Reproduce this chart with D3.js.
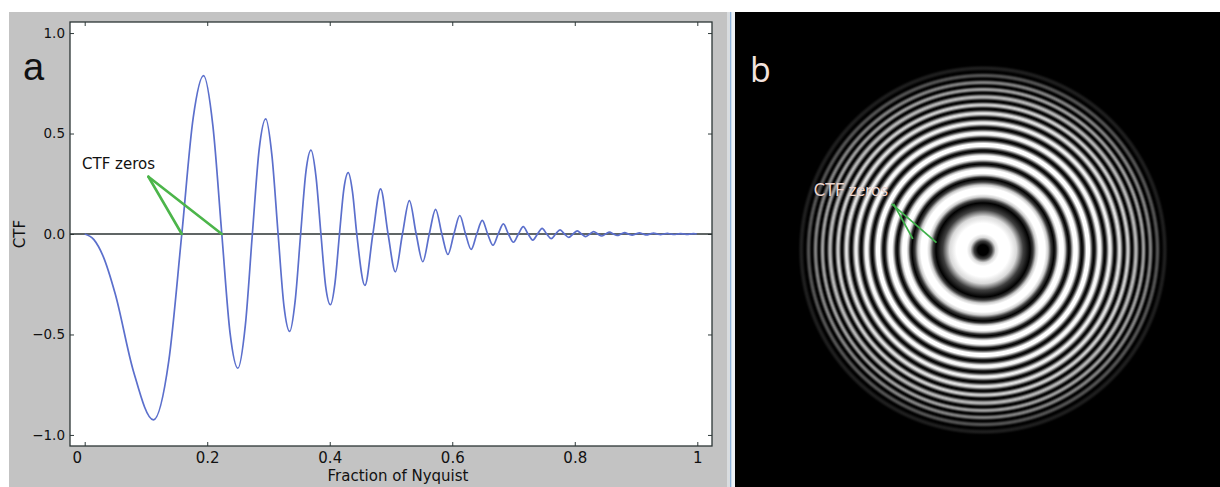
<!DOCTYPE html>
<html><head><meta charset="utf-8">
<script src="https://cdn.jsdelivr.net/npm/d3@7"></script>
<style>html,body{margin:0;padding:0;background:#fff;} svg{display:block;}</style>
</head><body>
<svg id="chart" width="1220" height="487"></svg>
<script>
// ---------------- DATA : panel a (CTF curve) ----------------
const zeroFreqs = [0, 0.1585, 0.2238, 0.2737, 0.3157, 0.3525, 0.3856, 0.4159, 0.4441, 0.4704,
  0.4952, 0.5187, 0.5411, 0.5625, 0.5830, 0.6027, 0.6217, 0.6400, 0.6578, 0.6750, 0.6917,
  0.7080, 0.7238, 0.7392, 0.7542, 0.7688, 0.7832, 0.7972, 0.8109, 0.8243, 0.8375, 0.8504,
  0.8630, 0.8754, 0.8876, 0.8996, 0.9114, 0.9230, 0.9344, 0.9456, 0.9566, 0.9675, 0.9782,
  0.9888, 0.9992];
const extremaFreqs = [0.1122, 0.1940, 0.2501, 0.2955, 0.3346, 0.3694, 0.4011, 0.4302, 0.4574,
  0.4830, 0.5071, 0.5300, 0.5519, 0.5728, 0.5929, 0.6123, 0.6309, 0.6490, 0.6665, 0.6834,
  0.6999, 0.7159, 0.7315, 0.7467, 0.7616, 0.7760, 0.7902, 0.8041, 0.8176, 0.8309, 0.8439,
  0.8567, 0.8693, 0.8816, 0.8937, 0.9055, 0.9172, 0.9287, 0.9400, 0.9511, 0.9621, 0.9729,
  0.9835, 0.9940];
const extremaValues = [-0.925, 0.788, -0.668, 0.573, -0.485, 0.417, -0.352, 0.305, -0.256,
  0.225, -0.188, 0.166, -0.138, 0.123, -0.102, 0.092, -0.077, 0.068, -0.056, 0.050, -0.041,
  0.037, -0.030, 0.028, -0.023, 0.021, -0.017, 0.016, -0.013, 0.012, -0.010, 0.009, -0.0075,
  0.0068, -0.0058, 0.0052, -0.0045, 0.004, -0.0035, 0.003, -0.0026, 0.0023, -0.002, 0.0018];
// flank points of the large lobes (about 70% of each lobe's height)
const flankFreqs = [0.015, 0.03, 0.05, 0.0793, 0.1373, 0.1771, 0.2094, 0.2373, 0.2622, 0.2848,
  0.3057, 0.3253, 0.3436, 0.3610, 0.3776, 0.3934, 0.4086, 0.4231, 0.4372];
const flankValues = [-0.028, -0.11, -0.30, -0.68, -0.63, 0.578, 0.534, -0.493, -0.455, 0.421,
  0.389, -0.359, -0.332, 0.307, 0.284, -0.262, -0.243, 0.225, 0.208];
const annotatedZeros = [0.1585, 0.2238];
const xTicks = [0, 0.2, 0.4, 0.6, 0.8, 1];
const xTickLabels = ["0", "0.2", "0.4", "0.6", "0.8", "1"];
const yTicks = [-1, -0.5, 0, 0.5, 1];
const yTickLabels = ["\u22121.0", "\u22120.5", "0.0", "0.5", "1.0"];

// ---------------- DATA : panel b (ring image, radii as fraction of outer radius) ----------------
const ringZeros = [0.269, 0.406, 0.491, 0.566, 0.634, 0.697, 0.754, 0.806, 0.851, 0.897, 0.937, 0.977, 1.017];
const bandLevels = [1.7, 1.6, 1.5, 1.35, 1.2, 1.08, 0.98, 0.9, 0.82, 0.72, 0.62, 0.5, 0.32, 0.12];
const coreDark = 0.03;
const annotatedRings = [0, 1];

// ---------------- LAYOUT ----------------
const svg = d3.select("#chart");
const W = 1220, H = 487;
svg.append("rect").attr("width", W).attr("height", H).attr("fill", "#fff");
svg.append("rect").attr("x", 9).attr("y", 12).attr("width", 718).attr("height", H - 12).attr("fill", "#c3c3c3");
svg.append("rect").attr("x", 727).attr("y", 12).attr("width", 3).attr("height", H - 12).attr("fill", "#d9dcdf");
svg.append("rect").attr("x", 730).attr("y", 12).attr("width", 1.6).attr("height", H - 12).attr("fill", "#8db2da");
svg.append("rect").attr("x", 731.6).attr("y", 12).attr("width", 3.4).attr("height", H - 12).attr("fill", "#eef2f6");
svg.append("rect").attr("x", 735).attr("y", 12).attr("width", W - 735).attr("height", H - 12).attr("fill", "#000");

// ---------------- PANEL A ----------------
const pl = 70, pr = 712, pt = 22, pb = 446;
const x = d3.scaleLinear().domain([-0.024, 1.024]).range([pl, pr]);
const y = d3.scaleLinear().domain([-1.055, 1.055]).range([pb, pt]);
svg.append("rect").attr("x", pl).attr("y", pt).attr("width", pr - pl).attr("height", pb - pt).attr("fill", "#fff");

const font = "'DejaVu Sans', sans-serif";
const axB = svg.append("g").attr("transform", `translate(0,${pb})`)
  .call(d3.axisBottom(x).tickValues(xTicks).tickFormat((d, i) => xTickLabels[i]).tickSizeInner(-4).tickSizeOuter(0).tickPadding(6));
const axT = svg.append("g").attr("transform", `translate(0,${pt})`)
  .call(d3.axisTop(x).tickValues(xTicks).tickFormat("").tickSizeInner(-4).tickSizeOuter(0));
const axL = svg.append("g").attr("transform", `translate(${pl},0)`)
  .call(d3.axisLeft(y).tickValues(yTicks).tickFormat((d, i) => yTickLabels[i]).tickSizeInner(-4).tickSizeOuter(0).tickPadding(5));
const axR = svg.append("g").attr("transform", `translate(${pr},0)`)
  .call(d3.axisRight(y).tickValues(yTicks).tickFormat("").tickSizeInner(-4).tickSizeOuter(0));
[axB, axT, axL, axR].forEach(a => {
  a.select(".domain").remove();
  a.selectAll(".tick line").attr("stroke", "#2f3a3a");
  a.selectAll("text").attr("font-family", font).attr("fill", "#111");
});
axB.selectAll("text").attr("font-size", 15);
axB.selectAll(".tick text").filter((d, i) => i === 0).attr("dx", -8);
axL.selectAll("text").attr("font-size", 13.5);

svg.append("line").attr("x1", pl).attr("x2", pr).attr("y1", y(0)).attr("y2", y(0))
  .attr("stroke", "#2b3333").attr("stroke-width", 1.3);

// curve
const pts = [];
zeroFreqs.forEach(f => pts.push([f, 0]));
extremaFreqs.forEach((f, i) => pts.push([f, extremaValues[i]]));
flankFreqs.forEach((f, i) => pts.push([f, flankValues[i]]));
pts.sort((a, b) => a[0] - b[0]);
const line = d3.line().x(d => x(d[0])).y(d => y(d[1])).curve(d3.curveMonotoneX);
svg.append("path").datum(pts).attr("d", line).attr("fill", "none")
  .attr("stroke", "#5b6fcc").attr("stroke-width", 1.7);

svg.append("rect").attr("x", pl).attr("y", pt).attr("width", pr - pl).attr("height", pb - pt)
  .attr("fill", "none").attr("stroke", "#2b3535").attr("stroke-width", 1.3);

// annotation
const annX = 0.104, annY = 0.285;
svg.append("g").selectAll("line").data(annotatedZeros).join("line")
  .attr("x1", x(annX)).attr("y1", y(annY)).attr("x2", d => x(d)).attr("y2", y(0))
  .attr("stroke", "#4cb54a").attr("stroke-width", 2.6).attr("stroke-linecap", "round");
svg.append("text").attr("x", 82).attr("y", 169).attr("font-family", font).attr("font-size", 15)
  .attr("fill", "#111").text("CTF zeros");

svg.append("text").attr("transform", `translate(25,${y(0)}) rotate(-90)`).attr("text-anchor", "middle")
  .attr("font-family", font).attr("font-size", 15).attr("fill", "#111").text("CTF");
svg.append("text").attr("x", 398).attr("y", 481).attr("text-anchor", "middle")
  .attr("font-family", font).attr("font-size", 15).attr("fill", "#111").text("Fraction of Nyquist");
svg.append("text").attr("x", 23).attr("y", 80).attr("font-family", "'Liberation Sans', Arial, sans-serif")
  .attr("font-size", 38).attr("fill", "#111").text("a");

// ---------------- PANEL B ----------------
const cx = 983, cy = 250;
const r = d3.scaleLinear().domain([0, 1]).range([0, 175]);
const outer = 1.06;
const nodes = [{o: 0, v: 0}, {o: coreDark, v: 0}];
const bounds = [coreDark, ...ringZeros, outer];
for (let i = 0; i < bounds.length - 1; i++) {
  const a = bounds[i], b = bounds[i + 1], L = bandLevels[i];
  const m = i === 0 ? a + (b - a) * 0.35 : (a + b) / 2;
  [[a, m], [m, b]].forEach(([s, e], k) => {
    [0.25, 0.5, 0.75, 1].forEach(t => {
      const tt = k === 0 ? t : 1 - t;
      const s2 = Math.pow(Math.sin(Math.PI / 2 * tt), 2);
      nodes.push({o: s + (e - s) * t, v: Math.min(1, L * s2)});
    });
  });
}
const grad = svg.append("defs").append("radialGradient").attr("id", "rings")
  .attr("gradientUnits", "userSpaceOnUse").attr("cx", cx).attr("cy", cy).attr("r", r(outer));
grad.selectAll("stop").data(nodes).join("stop")
  .attr("offset", d => Math.min(1, d.o / outer))
  .attr("stop-color", d => d3.rgb(255 * d.v, 255 * d.v, 255 * d.v));
svg.append("circle").attr("cx", cx).attr("cy", cy).attr("r", r(outer)).attr("fill", "url(#rings)");

const ang = Math.PI * (189 / 180);
const sAng = Math.PI * 206.8 / 180;
const startPt = [cx + r(0.585) * Math.cos(sAng), cy + r(0.585) * Math.sin(sAng)];
svg.append("g").selectAll("line").data(annotatedRings).join("line")
  .attr("x1", (d, i) => startPt[0] + i * 2).attr("y1", startPt[1])
  .attr("x2", d => cx + r(ringZeros[d]) * Math.cos(ang)).attr("y2", d => cy + r(ringZeros[d]) * Math.sin(ang))
  .attr("stroke", "#3fb04a").attr("stroke-width", 1.8);
svg.append("text").attr("x", 888).attr("y", 196).attr("text-anchor", "end")
  .attr("font-family", "Lato, 'Open Sans', sans-serif").attr("font-size", 17).attr("fill", "#ecd6cf").text("CTF zeros");
svg.append("text").attr("x", 750).attr("y", 82).attr("font-family", "'Open Sans', Lato, sans-serif")
  .attr("font-size", 34).attr("fill", "#f3e3de").text("b");
</script>
</body></html>
